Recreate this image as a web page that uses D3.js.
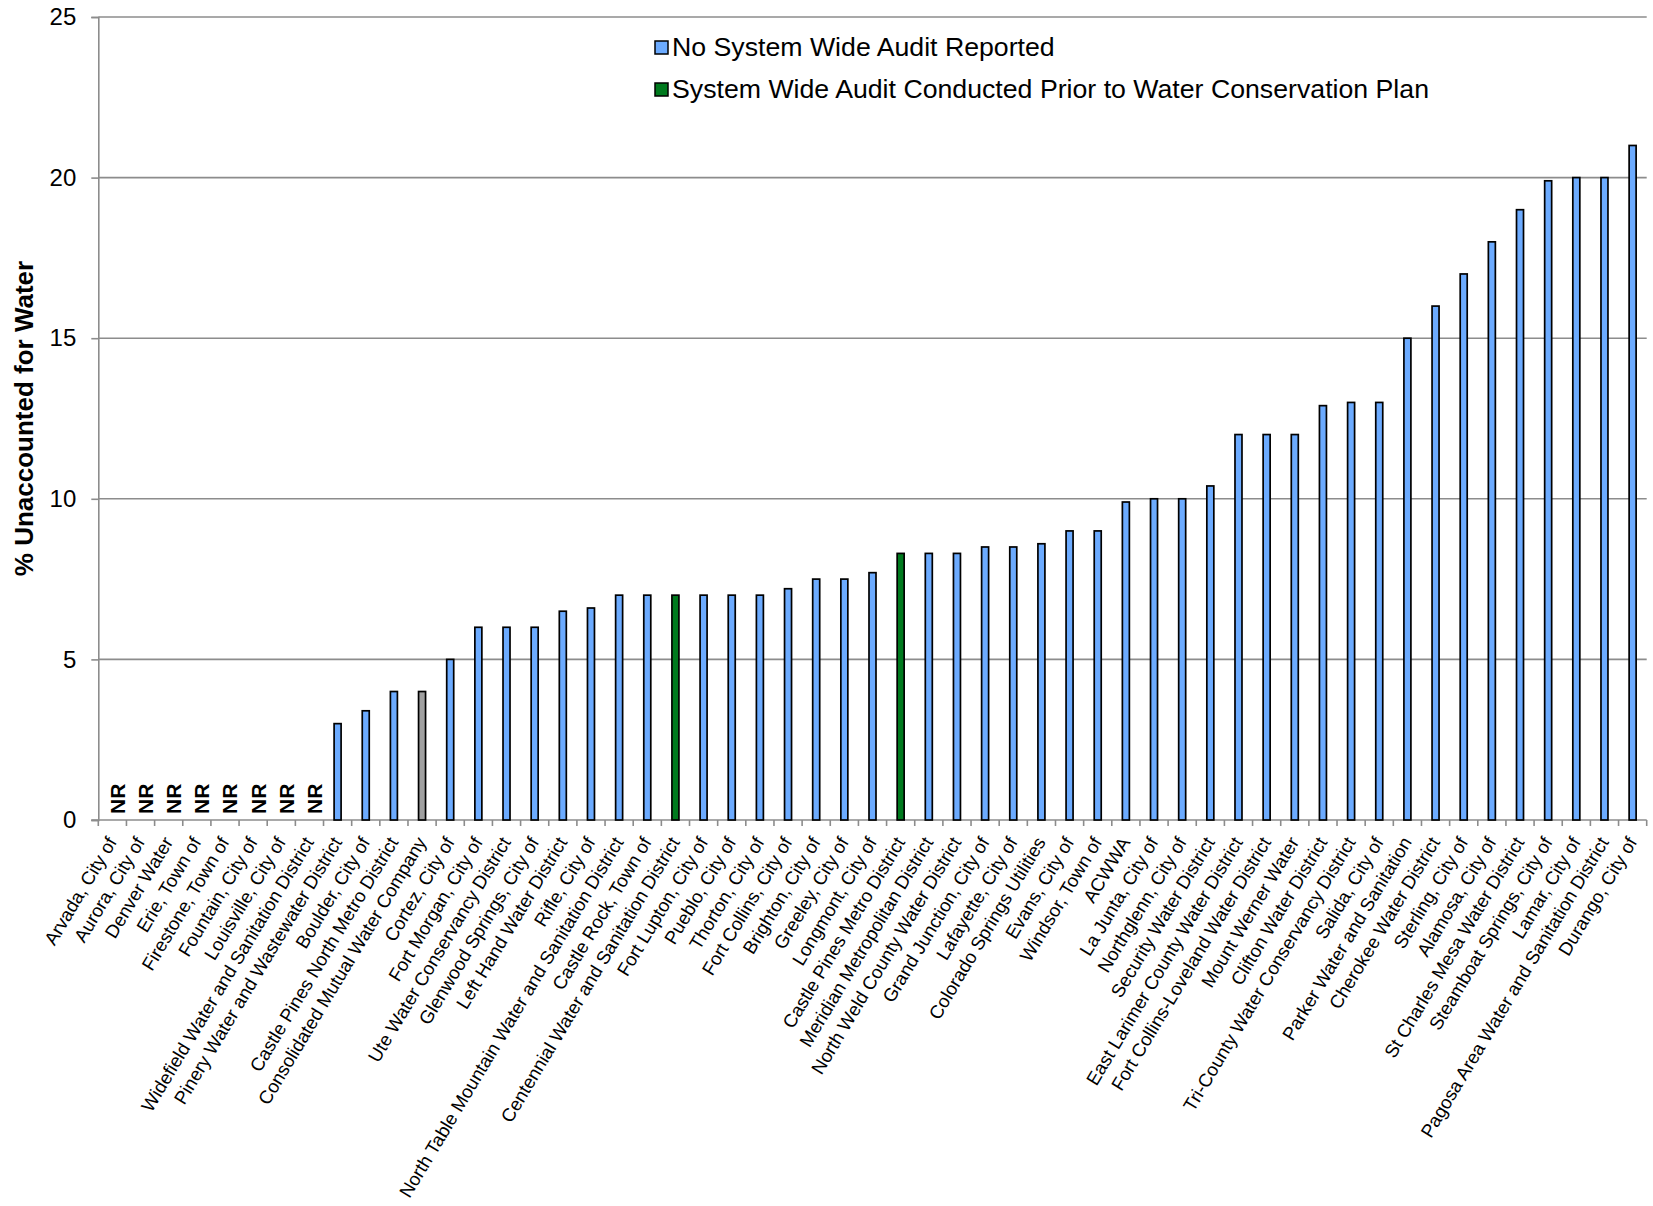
<!DOCTYPE html>
<html>
<head>
<meta charset="utf-8">
<script src="https://cdn.jsdelivr.net/npm/d3@7"></script>
<style>
  body { margin: 0; background: #fff; }
  text { font-family: "Liberation Sans", Arial, sans-serif; fill: #000; }
</style>
</head>
<body>
<svg width="1653" height="1206"></svg>
<script>
// providers, sorted by % unaccounted for water (null = not reported)
var providers = [
   "Arvada, City of", "Aurora, City of", "Denver Water", "Erie, Town of",
   "Firestone, Town of", "Fountain, City of", "Louisville, City of",
   "Widefield Water and Sanitation District", "Pinery Water and Wastewater District",
   "Boulder, City of", "Castle Pines North Metro District", "Consolidated Mutual Water Company",
   "Cortez, City of", "Fort Morgan, City of", "Ute Water Conservancy District",
   "Glenwood Springs, City of", "Left Hand Water District", "Rifle, City of",
   "North Table Mountain Water and Sanitation District", "Castle Rock, Town of",
   "Centennial Water and Sanitation District", "Fort Lupton, City of", "Pueblo, City of",
   "Thorton, City of", "Fort Collins, City of", "Brighton, City of", "Greeley, City of",
   "Longmont, City of", "Castle Pines Metro District", "Meridian Metropolitan District",
   "North Weld County Water District", "Grand Junction, City of", "Lafayette, City of",
   "Colorado Springs Utilities", "Evans, City of", "Windsor, Town of", "ACWWA",
   "La Junta, City of", "Northglenn, City of", "Security Water District",
   "East Larimer County Water District", "Fort Collins-Loveland Water District",
   "Mount Werner Water", "Clifton Water District", "Tri-County Water Conservancy District",
   "Salida, City of", "Parker Water and Sanitation", "Cherokee Water District",
   "Sterling, City of", "Alamosa, City of", "St Charles Mesa Water District",
   "Steamboat Springs, City of", "Lamar, City of", "Pagosa Area Water and Sanitation District",
   "Durango, City of"
];

var unaccounted = [
   null, null, null, null, null, null, null, null, 3,
   3.4, 4, 4, 5, 6, 6, 6, 6.5, 6.6,
   7, 7, 7, 7, 7, 7, 7.2, 7.5, 7.5,
   7.7, 8.3, 8.3, 8.3, 8.5, 8.5, 8.6, 9, 9,
   9.9, 10, 10, 10.4, 12, 12, 12, 12.9, 13,
   13, 15, 16, 17, 18, 19, 19.9, 20, 20, 21
];

// audit status: 0 = no audit reported, 1 = audit prior to plan, 2 = other
var auditStatus = [
   0, 0, 0, 0, 0, 0, 0, 0, 0,
   0, 0, 2, 0, 0, 0, 0, 0, 0,
   0, 0, 1, 0, 0, 0, 0, 0, 0,
   0, 1, 0, 0, 0, 0, 0, 0, 0,
   0, 0, 0, 0, 0, 0, 0, 0, 0,
   0, 0, 0, 0, 0, 0, 0, 0, 0, 0
];

var legendLabels = [
   "No System Wide Audit Reported",
   "System Wide Audit Conducted Prior to Water Conservation Plan"
];

var yTicks = [0, 5, 10, 15, 20, 25];
var statusColors = ["#6cabff", "#007a1e", "#a0a0a0"];

var svg = d3.select("svg");
var plotLeft = 98.3, plotRight = 1646.7, plotTop = 17, plotBottom = 820;

var data = providers.map(function(p, i) {
   return { name: p, value: unaccounted[i], status: auditStatus[i] };
});

var x = d3.scaleBand()
   .domain(providers)
   .range([plotLeft, plotRight])
   .padding(0);

var y = d3.scaleLinear()
   .domain([0, 25])
   .range([plotBottom, plotTop]);

// gridlines
svg.append("g")
   .selectAll("line")
   .data(yTicks.slice(1))
   .enter().append("line")
   .attr("x1", plotLeft)
   .attr("x2", plotRight)
   .attr("y1", function(d) { return y(d); })
   .attr("y2", function(d) { return y(d); })
   .attr("stroke", "#8c8c8c")
   .attr("stroke-width", 1.6);

// y axis
var yAxis = svg.append("g")
   .attr("transform", "translate(" + plotLeft + ",0)")
   .call(d3.axisLeft(y).tickValues(yTicks).tickSize(7).tickPadding(15));
yAxis.select(".domain").attr("stroke", "#8c8c8c").attr("stroke-width", 1.6);
yAxis.selectAll(".tick line").attr("stroke", "#8c8c8c").attr("stroke-width", 1.6);
yAxis.selectAll(".tick text")
   .style("font-size", "24px")
   .style("font-family", "Liberation Sans, Arial, sans-serif");

// x axis baseline and boundary ticks
svg.append("line")
   .attr("x1", plotLeft - 7)
   .attr("x2", plotRight)
   .attr("y1", y(0))
   .attr("y2", y(0))
   .attr("stroke", "#8c8c8c")
   .attr("stroke-width", 1.6);

var bounds = providers.map(function(p) { return x(p); }).concat([x.range()[1]]);
svg.append("g")
   .selectAll("line")
   .data(bounds)
   .enter().append("line")
   .attr("x1", function(d) { return d; })
   .attr("x2", function(d) { return d; })
   .attr("y1", y(0))
   .attr("y2", y(0) + 6)
   .attr("stroke", "#8c8c8c")
   .attr("stroke-width", 1.6);

// bars
var barW = 7;
svg.append("g")
   .selectAll("rect")
   .data(data.filter(function(d) { return d.value !== null; }))
   .enter().append("rect")
   .attr("x", function(d) { return x(d.name) + x.bandwidth() / 2 - barW / 2; })
   .attr("y", function(d) { return y(d.value); })
   .attr("width", barW)
   .attr("height", function(d) { return y(0) - y(d.value); })
   .attr("fill", function(d) { return statusColors[d.status]; })
   .attr("stroke", "#000")
   .attr("stroke-width", 1.7);

// NR labels
svg.append("g")
   .selectAll("text")
   .data(data.filter(function(d) { return d.value === null; }))
   .enter().append("text")
   .attr("transform", function(d) {
      return "translate(" + (x(d.name) + x.bandwidth() / 2 + 12.5) + "," + (y(0) - 6) + ") rotate(-90)";
   })
   .style("font-size", "21px")
   .style("font-weight", "bold")
   .text("NR");

// category labels
svg.append("g")
   .selectAll("text")
   .data(providers)
   .enter().append("text")
   .attr("transform", function(d) {
      return "translate(" + (x(d) + x.bandwidth() / 2 + 5) + "," + (y(0) + 22) + ") rotate(-59)";
   })
   .attr("text-anchor", "end")
   .style("font-size", "18.6px")
   .text(function(d) { return d; });

// y title
svg.append("text")
   .attr("transform", "translate(33," + ((plotTop + plotBottom) / 2) + ") rotate(-90)")
   .attr("text-anchor", "middle")
   .style("font-size", "26px")
   .style("font-weight", "bold")
   .text("% Unaccounted for Water");

// legend
var legend = svg.append("g")
   .selectAll("g")
   .data(legendLabels)
   .enter().append("g")
   .attr("transform", function(d, i) { return "translate(655," + (41 + i * 42) + ")"; });

legend.append("rect")
   .attr("width", 13)
   .attr("height", 13)
   .attr("fill", function(d, i) { return statusColors[i]; })
   .attr("stroke", "#000")
   .attr("stroke-width", 1.5);

legend.append("text")
   .attr("x", 17)
   .attr("y", 15)
   .style("font-size", "26.7px")
   .text(function(d) { return d; });
</script>
</body>
</html>
